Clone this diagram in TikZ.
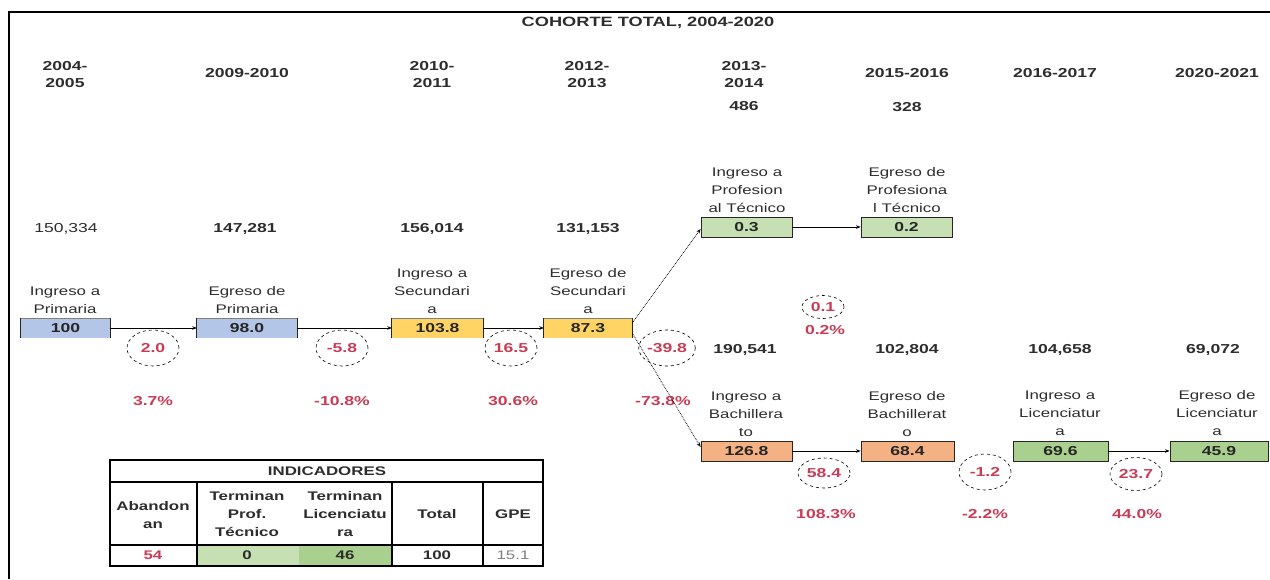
\documentclass[tikz,border=0pt]{standalone}
\usepackage{fontspec}
\setmainfont[FakeStretch=1.35]{Liberation Sans}
\usetikzlibrary{shapes.geometric,arrows.meta}
\definecolor{txt}{RGB}{45,45,45}
\definecolor{rd}{RGB}{200,60,85}
\definecolor{blu}{RGB}{180,198,231}
\definecolor{yel}{RGB}{255,212,100}
\definecolor{org}{RGB}{244,177,131}
\definecolor{grnl}{RGB}{198,224,180}
\definecolor{grn}{RGB}{169,208,142}
\begin{document}
\begin{tikzpicture}[x=1pt,y=-1pt,
  lbl/.style={font=\fontsize{12.5}{18}\selectfont, text=txt, align=center, inner sep=0},
  yr/.style={font=\bfseries\fontsize{13}{17}\selectfont, text=txt, align=center, inner sep=0},
  num/.style={font=\bfseries\fontsize{13}{15}\selectfont, text=txt, inner sep=0},
  box/.style={minimum height=20, inner sep=0, font=\bfseries\fontsize{13}{14}\selectfont, text=black!85},
  fbox/.style={box, draw=black!85, line width=0.9},
  circ/.style={ellipse, draw=black, dashed, line width=0.6, minimum width=52, minimum height=36, inner sep=0, font=\bfseries\fontsize{13}{14}\selectfont, text=rd},
  pct/.style={font=\bfseries\fontsize{13}{14}\selectfont, text=rd, inner sep=0},
  arr/.style={-{Stealth[length=4.5pt,width=3.5pt]}, line width=0.7},
  darr/.style={arr, densely dotted, line width=0.8},
  edge/.style={line width=1.1, black!85},
  th/.style={font=\bfseries\fontsize{12.5}{18}\selectfont, text=txt, align=center, inner sep=0}
]
\useasboundingbox (0,0) rectangle (1270,579);
\draw[line width=1.5] (9,579) -- (9,12) -- (1270,12);

% title and years
\node[yr, font=\bfseries\fontsize{13.5}{16}\selectfont] (title) at (648,23) {COHORTE TOTAL, 2004-2020};
\node[yr] (y1) at (65,75) {2004-\\2005};
\node[yr] (y2) at (247,73) {2009-2010};
\node[yr] (y3) at (432,75) {2010-\\2011};
\node[yr] (y4) at (587,75) {2012-\\2013};
\node[yr] (y5) at (744,75) {2013-\\2014};
\node[yr] (y5b) at (744,106) {486};
\node[yr] (y6) at (907,73) {2015-2016};
\node[yr] (y6b) at (907,107) {328};
\node[yr] (y7) at (1055,73) {2016-2017};
\node[yr] (y8) at (1217,73) {2020-2021};

% counts
\node[num, font=\fontsize{13}{15}\selectfont] (n1) at (66,229) {150,334};
\node[num] (n2) at (245,229) {147,281};
\node[num] (n3) at (432,229) {156,014};
\node[num] (n4) at (588,229) {131,153};
\node[num] (n5) at (745,350) {190,541};
\node[num] (n6) at (907,350) {102,804};
\node[num] (n7) at (1060,350) {104,658};
\node[num] (n8) at (1213,350) {69,072};

% labels
\node[lbl] (l1) at (65,300) {Ingreso a\\Primaria};
\node[lbl] (l2) at (247,300) {Egreso de\\Primaria};
\node[lbl] (l3) at (432,291) {Ingreso a\\Secundari\\a};
\node[lbl] (l4) at (588,291) {Egreso de\\Secundari\\a};
\node[lbl] (l5) at (747,190) {Ingreso a\\Profesion\\al Técnico};
\node[lbl] (l6) at (907,190) {Egreso de\\Profesiona\\l Técnico};
\node[lbl] (l7) at (746,414) {Ingreso a\\Bachillera\\to};
\node[lbl] (l8) at (907,414) {Egreso de\\Bachillerat\\o};
\node[lbl] (l9) at (1060,413) {Ingreso a\\Licenciatur\\a};
\node[lbl] (l10) at (1217,413) {Egreso de\\Licenciatur\\a};

% boxes
\node[box, fill=blu, minimum width=89] (b100) at (65.5,328) {100};
\node[box, fill=blu, minimum width=100] (b98) at (247,328) {98.0};
\node[box, fill=yel, minimum width=91] (b1038) at (437.5,328) {103.8};
\node[box, fill=yel, minimum width=88] (b873) at (588,328) {87.3};
\foreach \b in {b100,b98,b1038,b873}{
  \draw[edge] (\b.north west) -- (\b.south west);
  \draw[edge] (\b.north east) -- (\b.south east);
  \draw[black!50, line width=0.5] (\b.north west) -- (\b.north east);
}
\node[fbox, fill=grnl, minimum width=91] (b03) at (746.5,227) {0.3};
\node[fbox, fill=grnl, minimum width=91] (b02) at (906.5,227) {0.2};
\node[fbox, fill=org, minimum width=91] (b1268) at (746.5,451) {126.8};
\node[fbox, fill=org, minimum width=93] (b684) at (907.5,451) {68.4};
\node[fbox, fill=grn, minimum width=95] (b696) at (1060.5,451) {69.6};
\node[fbox, fill=grn, minimum width=98] (b459) at (1219,451) {45.9};

% circles
\node[circ] (c1) at (153,348) {2.0};
\node[circ] (c2) at (342,348) {-5.8};
\node[circ] (c3) at (511,348) {16.5};
\node[circ] (c4) at (667,348) {-39.8};
\node[circ, minimum width=42, minimum height=23] (c5) at (823,307) {0.1};
\node[circ, minimum height=30] (c6) at (824,473) {58.4};
\node[circ] (c7) at (985,472) {-1.2};
\node[circ, minimum height=33] (c8) at (1136,474) {23.7};

% percentages
\node[pct] (p1) at (153,401) {3.7\%};
\node[pct] (p2) at (342,401) {-10.8\%};
\node[pct] (p3) at (513,401) {30.6\%};
\node[pct] (p4) at (663,401) {-73.8\%};
\node[pct] (p5) at (825,330) {0.2\%};
\node[pct] (p6) at (826,514) {108.3\%};
\node[pct] (p7) at (985,514) {-2.2\%};
\node[pct] (p8) at (1137,514) {44.0\%};

% connectors
\draw[arr] (b100) -- (b98);
\draw[arr] (b98) -- (b1038);
\draw[arr] (b1038) -- (b873);
\draw[arr] (b03) -- (b02);
\draw[arr] (b1268) -- (b684);
\draw[arr] (b696) -- (b459);
\draw[darr] ([yshift=5]b873.east) -- ([yshift=-2]b03.west);
\draw[darr] ([yshift=-5]b873.east) -- ([yshift=4]b1268.west);

% table
\fill[grnl] (197,545) rectangle (299,566);
\fill[grn] (299,545) rectangle (392,566);
\draw[line width=1.8] (110,460) rectangle (543,566);
\draw[line width=1.8] (110,482) -- (543,482);
\draw[line width=1.8] (110,545) -- (543,545);
\draw[line width=1.2] (197,482) -- (197,566);
\draw[line width=1.2] (392,482) -- (392,566);
\draw[line width=2.2] (483,482) -- (483,566);
\node[th] (tt) at (327,471) {INDICADORES};
\node[th] (h1) at (153,515) {Abandon\\an};
\node[th] (h2) at (247,514) {Terminan\\Prof.\\Técnico};
\node[th] (h3) at (345,514) {Terminan\\Licenciatu\\ra};
\node[th] (h4) at (437,514) {Total};
\node[th] (h5) at (513,514) {GPE};
\node[th, text=rd] (d1) at (153,555) {54};
\node[th] (d2) at (247,555) {0};
\node[th] (d3) at (345,555) {46};
\node[th] (d4) at (437,555) {100};
\node[th, text=black!50, font=\fontsize{12.5}{14}\selectfont] (d5) at (513,555) {15.1};
\end{tikzpicture}
\end{document}
